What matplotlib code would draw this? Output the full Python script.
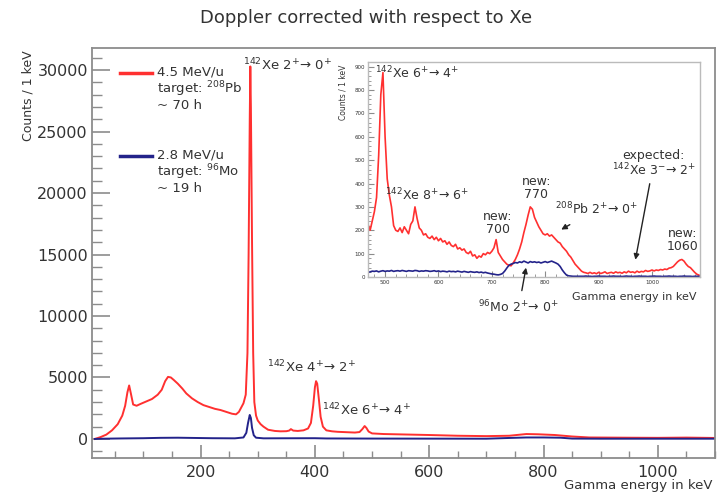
import numpy as np
import matplotlib
matplotlib.use("Agg")
import matplotlib.pyplot as plt
from matplotlib.ticker import MultipleLocator

# Spectre principal (4.5 MeV/u, cible 208Pb)
e_red = [15, 25, 35, 45, 55, 63, 68, 72, 75, 78, 82, 88, 95, 105, 115, 125, 132, 138, 143, 148,
         153, 160, 168, 175, 185, 195, 205, 215, 225, 235, 245, 255, 262, 267, 271, 275, 279, 282, 284, 286,
         287, 288, 290, 292, 294, 297, 300, 305, 310, 318, 330, 340, 350, 355, 358, 362, 370, 380, 388, 393,
         397, 400, 402, 404, 407, 410, 414, 420, 430, 440, 450, 460, 470, 478, 483, 487, 490, 494, 500, 520,
         550, 600, 650, 700, 740, 770, 790, 820, 850, 880, 950, 1000, 1050, 1100]
c_red = [0, 150, 350, 700, 1200, 1900, 2700, 3800, 4350, 3700, 2800, 2700, 2850, 3050, 3250, 3600, 4000, 4700, 5050, 5000,
         4800, 4500, 4100, 3700, 3300, 3000, 2750, 2600, 2450, 2350, 2200, 2050, 2000, 2200, 2550, 2900, 3600, 7000, 15000, 26000,
         30300, 27000, 16000, 7000, 3000, 1900, 1500, 1200, 1000, 750, 650, 620, 630, 680, 800, 680, 650, 700, 850, 1300,
         2700, 4200, 4700, 4500, 3200, 1800, 1000, 700, 620, 580, 560, 540, 520, 560, 800, 1050, 900, 600, 450, 400,
         370, 320, 260, 230, 260, 400, 380, 320, 200, 120, 100, 90, 110, 80]

# Spectre principal (2.8 MeV/u, cible 96Mo)
e_blue = [15, 30, 60, 100, 130, 160, 190, 220, 260, 275, 280, 283, 286, 288, 290, 293, 297, 310, 400, 420,
          500, 700, 740, 770, 800, 830, 850, 900, 1100]
c_blue = [0, 20, 40, 60, 90, 100, 80, 60, 50, 120, 500, 1300, 1950, 1700, 900, 300, 100, 50, 60, 40,
          30, 20, 80, 120, 120, 100, 30, 20, 20]

# Encadré : zoom 468-1088 keV, bins de 4 keV
e_zoom = np.arange(468, 1092, 4)
red_zoom = [225, 200, 240, 280, 340, 520, 780, 875, 600, 420,
            350, 300, 220, 200, 195, 210, 190, 215, 200, 185,
            225, 240, 300, 250, 210, 200, 180, 185, 170, 165,
            175, 160, 170, 155, 165, 150, 155, 140, 150, 135,
            130, 140, 120, 125, 115, 120, 105, 100, 110, 90,
            95, 80, 90, 85, 100, 95, 105, 100, 110, 125,
            160, 105, 90, 75, 65, 55, 50, 48, 60, 75,
            95, 120, 150, 190, 225, 265, 300, 290, 255, 235,
            215, 200, 185, 180, 185, 175, 180, 170, 160, 150,
            145, 130, 120, 110, 95, 85, 70, 55, 45, 35,
            25, 20, 18, 15, 20, 15, 18, 14, 20, 15,
            18, 22, 15, 18, 20, 16, 22, 18, 20, 16,
            22, 18, 25, 20, 22, 18, 25, 20, 24, 22,
            28, 24, 26, 30, 26, 30, 28, 32, 30, 34,
            32, 38, 40, 45, 55, 65, 72, 75, 68, 55,
            45, 40, 30, 20, 12, 8]
blue_zoom = [20, 22, 25, 24, 26, 22, 25, 27, 24, 26,
             25, 28, 24, 26, 27, 25, 28, 26, 24, 27,
             26, 25, 28, 27, 24, 26, 25, 27, 26, 24,
             25, 27, 24, 26, 23, 25, 24, 22, 25, 23,
             24, 22, 25, 23, 21, 24, 22, 20, 23, 21,
             20, 22, 19, 21, 18, 20, 17, 15, 13, 12,
             10, 9, 11, 15, 25, 38, 50, 55, 58, 62,
             60, 65, 62, 68, 64, 60, 66, 63, 65, 62,
             64, 60, 63, 66, 62, 65, 68, 64, 60, 55,
             45, 30, 18, 8, 5, 4, 3, 3, 3, 3,
             3, 3, 4, 3, 3, 2, 3, 3, 4, 3,
             3, 3, 2, 3, 3, 4, 3, 3, 3, 2,
             3, 4, 3, 3, 2, 3, 3, 4, 3, 3,
             3, 2, 3, 3, 4, 3, 3, 3, 2, 3,
             3, 4, 3, 3, 3, 2, 3, 3, 4, 3,
             3, 3, 2, 3, 3, 3]

ROUGE = "#ff3030"
BLEU = "#23238a"
GRIS = "#8c8c8c"
TEXTE = "#333333"

fig = plt.figure(figsize=(7.26, 4.93), dpi=100)
W, H = 726, 493

def boite(x0, y0, x1, y1):  # pixels -> fraction de figure
    return [x0 / W, 1 - y1 / H, (x1 - x0) / W, (y1 - y0) / H]

ax = fig.add_axes(boite(92, 48, 715, 458))
ax.plot(e_red, c_red, color=ROUGE, lw=1.4)
ax.plot(e_blue, c_blue, color=BLEU, lw=1.4)
ax.set_xlim(10, 1100)
ax.set_ylim(-1550, 31800)
ax.xaxis.set_major_locator(MultipleLocator(200))
ax.xaxis.set_minor_locator(MultipleLocator(50))
ax.yaxis.set_major_locator(MultipleLocator(5000))
ax.yaxis.set_minor_locator(MultipleLocator(1000))
ax.tick_params(axis="y", which="major", direction="in", length=13, width=1.2, color=GRIS,
               labelsize=11.5, labelcolor=TEXTE, pad=3)
ax.tick_params(axis="y", which="minor", direction="in", length=7, width=1.0, color=GRIS)
ax.tick_params(axis="x", which="major", direction="in", length=9.5, width=1.2, color=GRIS,
               labelsize=11.5, labelcolor=TEXTE, pad=5)
ax.tick_params(axis="x", which="minor", direction="in", length=5, width=1.0, color=GRIS)
for s in ax.spines.values():
    s.set_color(GRIS)
    s.set_linewidth(1.3)

fig.text(366 / W, 1 - 18 / H, "Doppler corrected with respect to Xe", ha="center", va="center",
         fontsize=13, color=TEXTE)
fig.text(28 / W, 1 - 50 / H, "Counts / 1 keV", rotation=90, ha="center", va="top", fontsize=9, color=TEXTE)
fig.text(713 / W, 1 - 485 / H, "Gamma energy in keV", ha="right", va="center", fontsize=9.5, color=TEXTE)

# légende faite à la main (style ROOT)
ax.plot([0.045, 0.0963], [0.9398, 0.9398], transform=ax.transAxes, color=ROUGE, lw=2.5)
ax.text(0.1043, 0.958, "4.5 MeV/u\ntarget: $^{208}$Pb\n~ 70 h", transform=ax.transAxes,
        ha="left", va="top", fontsize=9.5, color=TEXTE, linespacing=1.05)
ax.plot([0.045, 0.0963], [0.737, 0.737], transform=ax.transAxes, color=BLEU, lw=2.5)
ax.text(0.1043, 0.755, "2.8 MeV/u\ntarget: $^{96}$Mo\n~ 19 h", transform=ax.transAxes,
        ha="left", va="top", fontsize=9.5, color=TEXTE, linespacing=1.05)

ax.text(274, 30400, "$^{142}$Xe 2$^{+}$→ 0$^{+}$", ha="left", va="center", fontsize=9.5, color=TEXTE)
ax.text(317, 5850, "$^{142}$Xe 4$^{+}$→ 2$^{+}$", ha="left", va="center", fontsize=9.5, color=TEXTE)
ax.text(413, 2360, "$^{142}$Xe 6$^{+}$→ 4$^{+}$", ha="left", va="center", fontsize=9.5, color=TEXTE)

# encadré
axi = fig.add_axes(boite(368, 62, 700, 277))
axi.plot(e_zoom, red_zoom, color=ROUGE, lw=1.2)
axi.plot(e_zoom, blue_zoom, color=BLEU, lw=1.2)
axi.set_xlim(468, 1090)
axi.set_ylim(0, 920)
axi.xaxis.set_major_locator(MultipleLocator(100))
axi.xaxis.set_minor_locator(MultipleLocator(20))
axi.yaxis.set_major_locator(MultipleLocator(100))
axi.yaxis.set_minor_locator(MultipleLocator(20))
axi.tick_params(which="major", direction="in", length=4, width=0.8, color=GRIS, labelsize=4,
                labelcolor=TEXTE, pad=2)
axi.tick_params(which="minor", direction="in", length=2, width=0.6, color=GRIS)
for s in axi.spines.values():
    s.set_color("#bbbbbb")
    s.set_linewidth(1.0)
fig.text(343 / W, 1 - 65 / H, "Counts / 1 keV", rotation=90, ha="center", va="top", fontsize=5.5, color=TEXTE)
fig.text(697 / W, 1 - 297 / H, "Gamma energy in keV", ha="right", va="center", fontsize=8, color=TEXTE)

fl = dict(arrowstyle="-|>", color="#222222", lw=1.0, mutation_scale=8)
axi.text(481, 874, "$^{142}$Xe 6$^{+}$→ 4$^{+}$", ha="left", va="center", fontsize=9, color=TEXTE)
axi.text(500, 353, "$^{142}$Xe 8$^{+}$→ 6$^{+}$", ha="left", va="center", fontsize=9, color=TEXTE)
axi.text(711, 231, "new:\n700", ha="center", va="center", fontsize=9, color=TEXTE, linespacing=1.0)
axi.text(783, 381, "new:\n770", ha="center", va="center", fontsize=9, color=TEXTE, linespacing=1.0)
axi.text(1057, 157, "new:\n1060", ha="center", va="center", fontsize=9, color=TEXTE, linespacing=1.0)
axi.annotate("$^{208}$Pb 2$^{+}$→ 0$^{+}$", xy=(830, 203), xytext=(818, 289), ha="left", va="center",
             fontsize=9, color=TEXTE, arrowprops=dict(fl, shrinkA=6, shrinkB=0), annotation_clip=False)
axi.annotate("expected:\n$^{142}$Xe 3$^{-}$→ 2$^{+}$", xy=(969, 74), xytext=(1003, 486), ha="center",
             va="center", fontsize=9, color=TEXTE, linespacing=1.0,
             arrowprops=dict(fl, shrinkA=2, shrinkB=0), annotation_clip=False)
axi.annotate("$^{96}$Mo 2$^{+}$→ 0$^{+}$", xy=(764, 40), xytext=(675, -129), ha="left", va="center",
             fontsize=9, color=TEXTE, arrowprops=dict(fl, shrinkA=4, shrinkB=0), annotation_clip=False)

fig.savefig("out.png", dpi=100)
